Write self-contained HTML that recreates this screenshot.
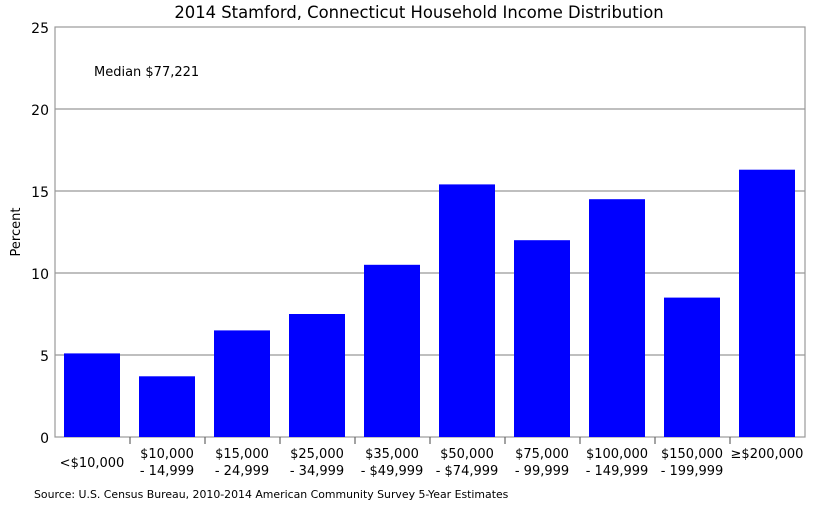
<!DOCTYPE html>
<html><head><style>body{margin:0;background:#fff}</style></head><body>
<svg width="819" height="512" xmlns="http://www.w3.org/2000/svg" font-family="DejaVu Sans, Liberation Sans, sans-serif">
<rect width="819" height="512" fill="#fff"/>
<text x="419" y="18" font-size="16.4" text-anchor="middle">2014 Stamford, Connecticut Household Income Distribution</text>
<g stroke="#999" stroke-width="1.2">
<line x1="55" x2="805" y1="109" y2="109"/>
<line x1="55" x2="805" y1="191" y2="191"/>
<line x1="55" x2="805" y1="273" y2="273"/>
<line x1="55" x2="805" y1="355" y2="355"/>
</g>
<rect x="55" y="27" width="750" height="410" fill="none" stroke="#999" stroke-width="1.2"/>
<g fill="#0000ff">
<rect x="64" y="353.4" width="56" height="83.6"/>
<rect x="139" y="376.3" width="56" height="60.7"/>
<rect x="214" y="330.4" width="56" height="106.6"/>
<rect x="289" y="314" width="56" height="123"/>
<rect x="364" y="264.8" width="56" height="172.2"/>
<rect x="439" y="184.4" width="56" height="252.6"/>
<rect x="514" y="240.2" width="56" height="196.8"/>
<rect x="589" y="199.2" width="56" height="237.8"/>
<rect x="664" y="297.6" width="56" height="139.4"/>
<rect x="739" y="169.7" width="56" height="267.3"/>
</g>
<g stroke="#666" stroke-width="1.2">
<line x1="130" x2="130" y1="437" y2="444"/><line x1="205" x2="205" y1="437" y2="444"/>
<line x1="280" x2="280" y1="437" y2="444"/><line x1="355" x2="355" y1="437" y2="444"/>
<line x1="430" x2="430" y1="437" y2="444"/><line x1="505" x2="505" y1="437" y2="444"/>
<line x1="580" x2="580" y1="437" y2="444"/><line x1="655" x2="655" y1="437" y2="444"/>
<line x1="730" x2="730" y1="437" y2="444"/>
</g>
<g font-size="14" text-anchor="end">
<text x="49" y="33">25</text><text x="49" y="115">20</text><text x="49" y="197">15</text>
<text x="49" y="279">10</text><text x="49" y="361">5</text><text x="49" y="443">0</text>
</g>
<text x="20" y="232" font-size="13" text-anchor="middle" transform="rotate(-90 20 232)">Percent</text>
<text x="94" y="76" font-size="13">Median $77,221</text>
<g font-size="13" text-anchor="middle">
<text x="92" y="467">&lt;$10,000</text>
<text x="167" y="458">$10,000</text><text x="167" y="475">- 14,999</text>
<text x="242" y="458">$15,000</text><text x="242" y="475">- 24,999</text>
<text x="317" y="458">$25,000</text><text x="317" y="475">- 34,999</text>
<text x="392" y="458">$35,000</text><text x="392" y="475">- $49,999</text>
<text x="467" y="458">$50,000</text><text x="467" y="475">- $74,999</text>
<text x="542" y="458">$75,000</text><text x="542" y="475">- 99,999</text>
<text x="617" y="458">$100,000</text><text x="617" y="475">- 149,999</text>
<text x="692" y="458">$150,000</text><text x="692" y="475">- 199,999</text>
<text x="767" y="458">≥$200,000</text>
</g>
<text x="34" y="498" font-size="10.9">Source: U.S. Census Bureau, 2010-2014 American Community Survey 5-Year Estimates</text>
</svg>
</body></html>
